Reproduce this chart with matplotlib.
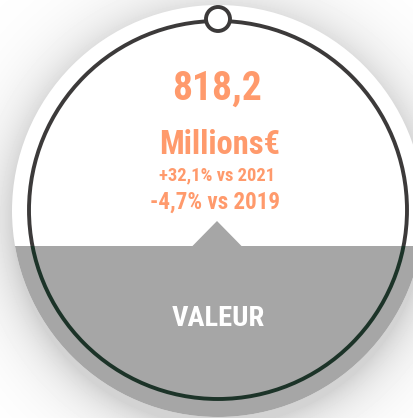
import numpy as np
import matplotlib
matplotlib.use("Agg")
import matplotlib.pyplot as plt
from matplotlib import font_manager
from matplotlib.patches import Circle, Polygon, Rectangle

# contenu de la carte
valeur = "818,2"
unite = "Millions€"
evolutions = ["+32,1% vs 2021", "-4,7% vs 2019"]
titre = "VALEUR"

orange = "#FF9A6C"
gris = "#A6A6A6"


def choisir_police(noms):
    for nom in noms:
        try:
            font_manager.findfont(font_manager.FontProperties(family=nom), fallback_to_default=False)
            return nom
        except ValueError:
            continue
    return "DejaVu Sans"


police = choisir_police(["Roboto Condensed", "Liberation Sans Narrow", "Roboto"])

W, H = 414, 418
fig = plt.figure(figsize=(W / 100, H / 100), dpi=100)
ax = fig.add_axes([0, 0, 1, 1])
ax.set_xlim(0, W)
ax.set_ylim(H, 0)
ax.axis("off")

cx, cy, R = 218, 211, 206

# ombre autour du disque
yy, xx = np.mgrid[0:H, 0:W]
d = np.hypot(xx - cx, yy - (cy + 8))
ombre = 0.17 * np.exp(-np.clip(d - R, 0, None) / 26)
ax.imshow(1 - ombre, cmap="gray", vmin=0, vmax=1, extent=(0, W, H, 0), zorder=0)

# disque blanc et partie grise
disque = Circle((cx, cy), R, facecolor="white", edgecolor="none", zorder=1)
ax.add_patch(disque)
bas = Rectangle((0, 246), W, H, facecolor=gris, edgecolor="none", zorder=2)
bas.set_clip_path(disque)
ax.add_patch(bas)
ax.add_patch(Polygon([(192, 246.5), (217, 221), (242, 246.5)], closed=True,
                     facecolor=gris, edgecolor="none", zorder=2))

# anneau (haut gris foncé, bas vert foncé)
r_anneau = 189
haut = Circle((cx, 210), r_anneau, fill=False, edgecolor="#3C3A3A", lw=2.8, zorder=3)
ax.add_patch(haut)
haut.set_clip_path(Rectangle((0, 0), W, 246, transform=ax.transData))
bas_anneau = Circle((cx, 210), r_anneau, fill=False, edgecolor="#1C3328", lw=2.8, zorder=3)
ax.add_patch(bas_anneau)
bas_anneau.set_clip_path(Rectangle((0, 246), W, H, transform=ax.transData))

ax.add_patch(Circle((218, 19), 12, facecolor="white", edgecolor="#3C3A3A", lw=2.8, zorder=4))

# textes
ax.text(217, 100, valeur, color=orange, fontsize=28.5, fontweight="bold",
        family=police, ha="center", va="baseline", zorder=5)
ax.text(220, 154, unite, color=orange, fontsize=23.5, fontweight="bold",
        family=police, ha="center", va="baseline", zorder=5)
ax.text(217, 180, evolutions[0], color=orange, fontsize=13.3, fontweight="bold",
        family=police, ha="center", va="baseline", zorder=5)
ax.text(215, 209, evolutions[1], color=orange, fontsize=16.6, fontweight="bold",
        family=police, ha="center", va="baseline", zorder=5)
ax.text(218, 326, titre, color="white", fontsize=20.5, fontweight="bold",
        family=police, ha="center", va="baseline", zorder=5)

fig.savefig("out.png", dpi=100)
